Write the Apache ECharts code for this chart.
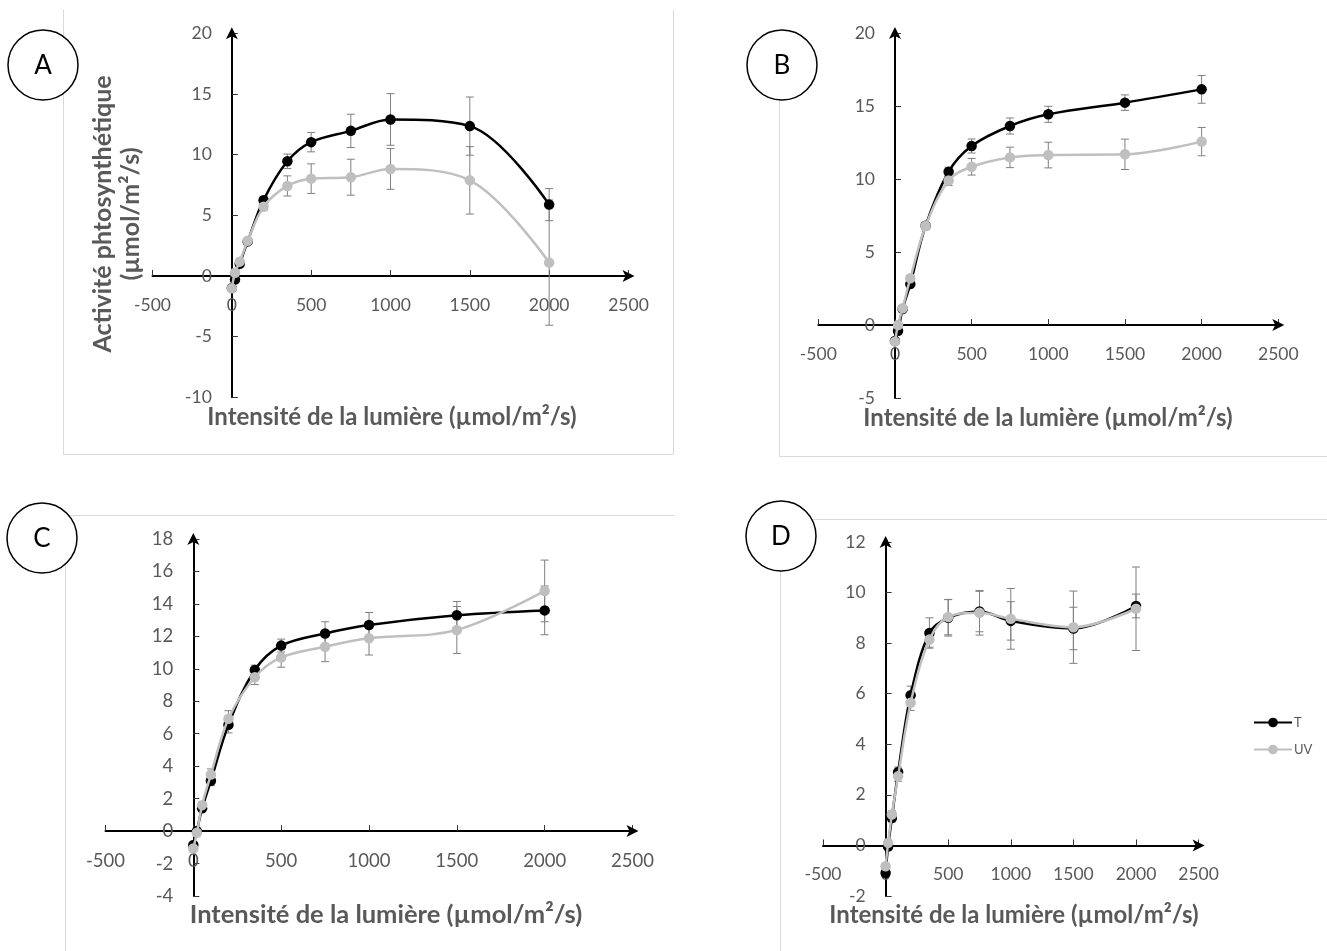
<!DOCTYPE html>
<html>
<head>
<meta charset="utf-8">
<script src="https://cdn.jsdelivr.net/npm/echarts@6/dist/echarts.min.js"></script>
<style>
html,body{margin:0;padding:0;background:#fff;}
#chart{width:1327px;height:951px;}
</style>
</head>
<body>
<div id="chart"></div>
<script>
// ---- data ----
const lightX = [0, 20, 50, 100, 200, 350, 500, 750, 1000, 1500, 2000];
const seriesNames = ['T', 'UV'];
const panelLetters = ['A', 'B', 'C', 'D'];
const xTitle = 'Intensité de la lumière (µmol/m²/s)';
const yTitleLines = ['Activité phtosynthétique', '(µmol/m²/s)'];

const A_T      = [-1.0, -0.3, 1.0, 2.85, 6.25, 9.45, 11.03, 11.96, 12.9, 12.35, 5.88];
const A_UV     = [-1.02, 0.27, 1.18, 2.9, 5.7, 7.42, 8.02, 8.14, 8.82, 7.88, 1.1];
const A_T_err  = [0.1, 0.1, 0.15, 0.2, 0.3, 0.6, 0.8, 1.37, 2.13, 2.4, 1.32];
const A_UV_err = [0.1, 0.1, 0.15, 0.2, 0.3, 0.83, 1.22, 1.48, 1.68, 2.78, 5.16];

const B_T      = [-1.1, -0.4, 1.1, 2.8, 6.8, 10.5, 12.26, 13.63, 14.43, 15.23, 16.14];
const B_UV     = [-1.14, 0.0, 1.15, 3.2, 6.78, 9.9, 10.84, 11.48, 11.64, 11.69, 12.56];
const B_T_err  = [0.1, 0.1, 0.1, 0.15, 0.2, 0.3, 0.48, 0.55, 0.55, 0.53, 0.95];
const B_UV_err = [0.1, 0.1, 0.1, 0.2, 0.2, 0.35, 0.57, 0.7, 0.88, 1.04, 0.97];

const C_T      = [-0.86, 0.0, 1.4, 3.1, 6.55, 9.93, 11.43, 12.18, 12.7, 13.3, 13.6];
const C_UV     = [-1.07, -0.1, 1.6, 3.48, 6.92, 9.48, 10.7, 11.36, 11.88, 12.39, 14.8];
const C_T_err  = [0.1, 0.1, 0.2, 0.3, 0.5, 0.3, 0.4, 0.72, 0.77, 0.85, 1.5];
const C_UV_err = [0.1, 0.1, 0.2, 0.35, 0.5, 0.45, 0.6, 0.92, 1.03, 1.45, 1.9];

const D_T      = [-1.09, -0.04, 1.08, 2.9, 5.94, 8.4, 9.0, 9.25, 8.88, 8.58, 9.47];
const D_UV     = [-0.82, 0.1, 1.22, 2.74, 5.64, 8.14, 9.03, 9.2, 8.96, 8.63, 9.36];
const D_T_err  = [0.1, 0.1, 0.15, 0.2, 0.36, 0.6, 0.72, 0.8, 0.76, 0.84, 0.47];
const D_UV_err = [0.1, 0.1, 0.15, 0.2, 0.3, 0.3, 0.7, 0.88, 1.2, 1.43, 1.65];

const xMin = -500, xMax = 2500, xStep = 500;
const yRanges = [[-10, 20, 5], [-5, 20, 5], [-4, 18, 2], [-2, 12, 2]];

// ---- layout / style ----
const grids = [
  {left: 152.5, top: 33.3, width: 476, height: 364},
  {left: 818.3, top: 33, width: 460, height: 365},
  {left: 105.5, top: 539, width: 527, height: 357},
  {left: 823, top: 542, width: 375.6, height: 354}
];
const panelData = [
  [A_T, A_UV, A_T_err, A_UV_err],
  [B_T, B_UV, B_T_err, B_UV_err],
  [C_T, C_UV, C_T_err, C_UV_err],
  [D_T, D_UV, D_T_err, D_UV_err]
];
const colors = ['#000000', '#bfbfbf'];
const FONT = 'Lato, "Open Sans", sans-serif';
const labelColor = '#595959';

function errRender(params, api) {
  const x = api.value(0), y = api.value(1), e = api.value(2);
  const t = api.coord([x, y + e]), b = api.coord([x, y - e]);
  const w = 4;
  const st = {stroke: '#7f7f7f', lineWidth: 1};
  return {type: 'group', children: [
    {type: 'line', shape: {x1: t[0], y1: t[1], x2: b[0], y2: b[1]}, style: st},
    {type: 'line', shape: {x1: t[0] - w, y1: t[1], x2: t[0] + w, y2: t[1]}, style: st},
    {type: 'line', shape: {x1: b[0] - w, y1: b[1], x2: b[0] + w, y2: b[1]}, style: st}
  ]};
}

const xAxes = [], yAxes = [], series = [];
grids.forEach((g, i) => {
  const yr = yRanges[i];
  const fs = i === 2 ? 18.5 : 17.5;
  const axisLabel = {color: labelColor, fontSize: fs, fontFamily: FONT, margin: 20, formatter: v => String(v)};
  const xOff = -(g.height * (0 - yr[0]) / (yr[1] - yr[0]));
  const yOff = -(g.width * (0 - xMin) / (xMax - xMin));
  xAxes.push({
    type: 'value', gridIndex: i, min: xMin, max: xMax, interval: xStep, offset: xOff,
    axisLine: {show: true, onZero: false, symbol: ['none', 'arrow'], symbolSize: [9, 12], symbolOffset: [0, 6],
      lineStyle: {color: '#000', width: 2}},
    axisTick: {show: true, inside: true, length: 6, lineStyle: {color: '#333', width: 1}},
    splitLine: {show: false},
    axisLabel: Object.assign({}, axisLabel)
  });
  yAxes.push({
    type: 'value', gridIndex: i, min: yr[0], max: yr[1], interval: yr[2], offset: yOff,
    axisLine: {show: true, onZero: false, symbol: ['none', 'arrow'], symbolSize: [9, 12], symbolOffset: [0, 6],
      lineStyle: {color: '#000', width: 2}},
    axisTick: {show: true, inside: true, length: 6, lineStyle: {color: '#333', width: 1}},
    splitLine: {show: false},
    axisLabel: Object.assign({}, axisLabel, {margin: 20})
  });
  const pd = panelData[i];
  [0, 1].forEach(k => {
    series.push({
      type: 'custom', name: seriesNames[k] + '_err', xAxisIndex: i, yAxisIndex: i,
      renderItem: errRender, z: 1, silent: true,
      encode: {x: 0, y: 1},
      data: lightX.map((x, j) => [x, pd[k][j], pd[k + 2][j]])
    });
  });
  [0, 1].forEach(k => {
    series.push({
      type: 'line', name: seriesNames[k], xAxisIndex: i, yAxisIndex: i,
      smooth: 0.35, symbol: 'circle', symbolSize: 10.5, showAllSymbol: true,
      z: 3 + k,
      lineStyle: {color: colors[k], width: 2.5},
      itemStyle: {color: colors[k]},
      data: lightX.map((x, j) => [x, pd[k][j]])
    });
  });
});

// graphics: borders, circles, titles
const border = '#d9d9d9';
const graphics = [
  {type: 'polyline', shape: {points: [[63.5, 10], [63.5, 454.5], [673.5, 454.5], [673.5, 10]]}, style: {stroke: border, fill: null, lineWidth: 1}, z: 0},
  {type: 'polyline', shape: {points: [[779.5, 31], [779.5, 456.5], [1327, 456.5]]}, style: {stroke: border, fill: null, lineWidth: 1}, z: 0},
  {type: 'polyline', shape: {points: [[65.5, 951], [65.5, 515.5], [674.5, 515.5]]}, style: {stroke: border, fill: null, lineWidth: 1}, z: 0},
  {type: 'polyline', shape: {points: [[780.5, 951], [780.5, 519.5], [1327, 519.5]]}, style: {stroke: border, fill: null, lineWidth: 1}, z: 0}
];
const circles = [[43, 65], [782, 65], [42, 538], [781, 536]];
circles.forEach((c, i) => {
  graphics.push({type: 'circle', shape: {cx: c[0], cy: c[1], r: 35}, style: {fill: '#fff', stroke: '#000', lineWidth: 1.5}, z: 10});
  graphics.push({type: 'text', x: c[0], y: c[1] + 1, z: 11,
    style: {text: panelLetters[i], fill: '#000', font: '26px ' + FONT, textAlign: 'center', textVerticalAlign: 'middle', align: 'center', verticalAlign: 'middle'}});
});
const xTitlePos = [[392, 417, 24], [1048, 418, 24], [386, 915, 25.5], [1014, 915, 24]];
xTitlePos.forEach(p => {
  graphics.push({type: 'text', x: p[0], y: p[1], z: 5,
    style: {text: xTitle, fill: labelColor, font: 'bold ' + p[2] + 'px ' + FONT, textAlign: 'center', textVerticalAlign: 'middle', align: 'center', verticalAlign: 'middle'}});
});
[[103, 214], [131, 214]].forEach((p, i) => {
  graphics.push({type: 'text', x: p[0], y: p[1], rotation: Math.PI / 2, z: 5,
    style: {text: yTitleLines[i], fill: labelColor, font: 'bold 25px ' + FONT, textAlign: 'center', textVerticalAlign: 'middle', align: 'center', verticalAlign: 'middle'}});
});

const chart = echarts.init(document.getElementById('chart'), null, {renderer: 'canvas'});
chart.setOption({
  animation: false,
  backgroundColor: '#fff',
  grid: grids.map(g => Object.assign({outerBoundsMode: 'none', containLabel: false}, g)),
  xAxis: xAxes,
  yAxis: yAxes,
  legend: {
    data: seriesNames, orient: 'vertical', left: 1248, top: 711, itemGap: 14,
    itemWidth: 38, itemHeight: 12,
    textStyle: {color: labelColor, fontSize: 13, fontFamily: FONT, padding: [0, 0, 0, -3]}
  },
  series: series,
  graphic: graphics
});
</script>
</body>
</html>
